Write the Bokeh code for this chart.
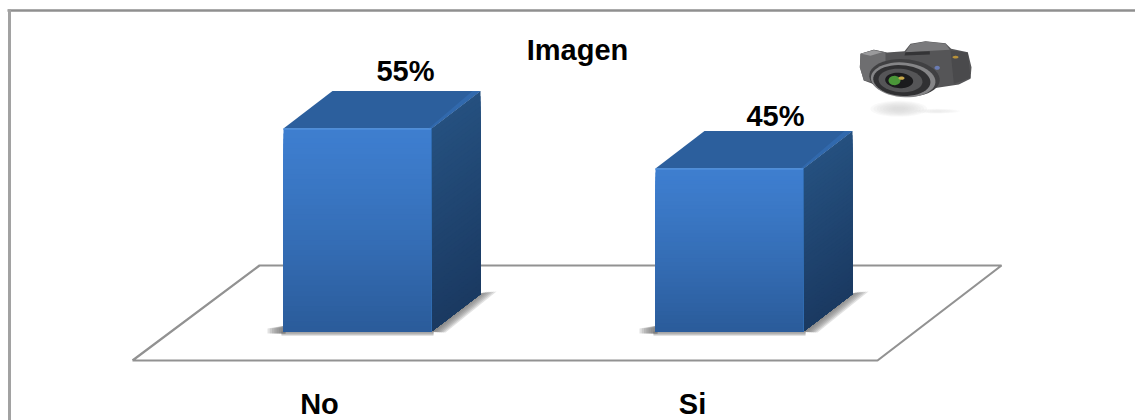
from bokeh.plotting import figure
from bokeh.models import Range1d, ColumnDataSource
from bokeh.core.properties import value
from bokeh.embed import file_html
from bokeh.resources import INLINE
import numpy as np

title = "Imagen"
categories = ["No", "Si"]
percent = [55, 45]
labels = ["55%", "45%"]

W, H = 1135, 420
PX_PER_CAT, PX_PER_PCT = 372.0, 4.0
BASE_VALUE = 4.25
FIRST_BAR_PX = 357.0
TOP_55_PX = 128.0

def X(px):
    return (np.asarray(px, dtype=float) - FIRST_BAR_PX) / PX_PER_CAT
def Y(py):
    return 55 + (TOP_55_PX - np.asarray(py, dtype=float)) / PX_PER_PCT

p = figure(width=W, height=H, output_backend="svg", toolbar_location=None,
           x_range=Range1d(float(X(0)), float(X(W))),
           y_range=Range1d(float(Y(H)), float(Y(0))),
           x_axis_location=None, y_axis_location=None, min_border=0,
           outline_line_color=None, background_fill_color="white", border_fill_color="white")
p.grid.visible = False

def lerp(c1, c2, t):
    a = [int(c1[i:i+2], 16) for i in (1, 3, 5)]
    b = [int(c2[i:i+2], 16) for i in (1, 3, 5)]
    return "#%02x%02x%02x" % tuple(int(round(a[i] + (b[i] - a[i]) * t)) for i in range(3))

def poly(pts, color, alpha=1.0):
    xs = [float(X(q[0])) for q in pts]
    ys = [float(Y(q[1])) for q in pts]
    p.patch(xs, ys, fill_color=color, fill_alpha=alpha, line_color=None)

# outer frame (only top and left edges reach the picture)
p.line([float(X(7)), float(X(1135))], [float(Y(10))] * 2, line_color="#8f8f8f", line_width=2.4)
p.line([float(X(9))] * 2, [float(Y(9)), float(Y(420))], line_color="#a2a2a2", line_width=3)

# floor
fx = [132, 877, 1001, 259, 132]
fy = [360, 360, 265, 265, 360]
p.line([float(v) for v in X(fx)], [float(v) for v in Y(fy)], line_color="#929292", line_width=2.2)

# bars
W_CAT = 148 / PX_PER_CAT
DX = 49 / PX_PER_CAT
DY = 37.5 / PX_PER_PCT
STEPS = 40
for i, v in enumerate(percent):
    cx = float(i)
    l, r = cx - W_CAT / 2, cx + W_CAT / 2
    rp = FIRST_BAR_PX + i * PX_PER_CAT + 74
    lp = rp - 148
    bp = 331.0
    # soft shadows
    for k in range(7):
        e = 16 * (7 - k) / 7
        poly([(rp, bp), (rp + 49, bp - 38), (rp + 49 + e, bp - 40), (rp + 14 * (7 - k) / 7, bp + 1)], "#6e6e6e", 0.2)
        poly([(lp - e, bp - 3), (lp + 2, bp - 6), (lp + 2, bp + 2), (lp - e, bp + 2)], "#6e6e6e", 0.2)
        poly([(lp - 2, bp), (rp + 2, bp), (rp + 2, bp + 1 + 3.5 * (7 - k) / 7), (lp - 2, bp + 1 + 3.5 * (7 - k) / 7)], "#808080", 0.16)
    # side face
    for s in range(STEPS):
        t = s / STEPS
        yv = v + (BASE_VALUE - v) * t
        p.patch([r, r + DX, r + DX, r], [yv, yv + DY, BASE_VALUE + DY, BASE_VALUE],
                fill_color=lerp("#25507f", "#1a3961", t), line_color=None)
    # top face
    p.patch([l, r, r + DX, l + DX], [v, v, v + DY, v + DY], fill_color="#2c5f9d", line_color=None)
    p.patch([r - 3 * DX / 49, r, r + DX, r + DX - 8 * DX / 49],
            [v, v, v + DY, v + DY], fill_color="#3169ad", line_color=None)
    # front face
    for s in range(STEPS):
        t = s / STEPS
        yv = v + (BASE_VALUE - v) * t
        p.quad(left=l, right=r, top=yv, bottom=BASE_VALUE,
               fill_color=lerp("#3e7ecf", "#2a5b99", t ** 1.2), line_color=None)
    p.line([l, r], [v - 0.15, v - 0.15], line_color="#4a8bd9", line_width=1.6)
    p.line([r, r], [v, BASE_VALUE], line_color="#2f6bb0", line_width=1)

FONT = value("Liberation Sans")
src = ColumnDataSource(dict(
    x=list(range(len(categories))), y=percent, text=labels,
    xo=[48, 46], yo=[-58, -53], cat=categories, base=[BASE_VALUE] * 2,
    cxo=[-38, -37], cyo=[72, 72]))
p.text(x="x", y="y", text="text", source=src, x_offset="xo", y_offset="yo",
       text_font=FONT, text_font_style="bold", text_font_size="29px",
       text_align="center", text_baseline="middle", text_color="#000000")
p.text(x="x", y="base", text="cat", source=src, x_offset="cxo", y_offset="cyo",
       text_font=FONT, text_font_style="bold", text_font_size="29px",
       text_align="center", text_baseline="middle", text_color="#000000")
p.text(x=[float(X(577))], y=[float(Y(49))], text=[title],
       text_font=FONT, text_font_style="bold", text_font_size="29px",
       text_align="center", text_baseline="middle", text_color="#000000")

# camera picture, drawn as shapes
def zp(pts):
    return [(830 + a / 3, 20 + b / 3) for a, b in pts]
def ell(cx, cy, rx, ry, ang=0.0):
    th = np.linspace(0, 2 * np.pi, 48)
    c, s = np.cos(ang), np.sin(ang)
    return [(cx + rx * np.cos(t) * c - ry * np.sin(t) * s, cy + rx * np.cos(t) * s + ry * np.sin(t) * c) for t in th]

for k in range(8):
    f = 1 - k / 9
    poly(zp(ell(205, 265, 85 * f, 24 * f)), "#d0d0d0", 0.13)
    poly(zp(ell(320, 272, 70 * f, 7 * f)), "#e6e6e6", 0.1)
poly(zp([(90, 100), (130, 88), (170, 96), (222, 92), (240, 70), (285, 62), (345, 68), (362, 85), (412, 95),
         (423, 140), (420, 175), (385, 192), (300, 205), (140, 195), (100, 180), (88, 140)]), "#555557")
poly(zp([(90, 100), (130, 88), (165, 95), (165, 125), (130, 185), (100, 180), (88, 140)]), "#6e6e70")
poly(zp([(92, 100), (130, 89), (155, 95), (120, 106)]), "#9a9a9c")
poly(zp([(240, 72), (285, 63), (345, 70), (358, 88), (225, 95)]), "#7a7a7c")
poly(zp([(360, 90), (412, 97), (420, 172), (370, 190)]), "#4a4a4c")
poly(zp([(225, 95), (298, 92), (298, 102), (222, 105)]), "#343436")
poly(zp(ell(320, 142, 8, 6)), "#6a7cb4")
poly(zp(ell(375, 110, 9, 4)), "#b8923a")
poly(zp(ell(222, 172, 106, 56, 0.08)), "#404042")
poly(zp(ell(218, 178, 97, 52, 0.08)), "#858587")
poly(zp(ell(214, 180, 86, 46, 0.08)), "#303032")
poly(zp(ell(210, 180, 66, 35, 0.08)), "#555557")
poly(zp(ell(206, 180, 42, 23, 0.08)), "#1b1b1d")
poly(zp(ell(192, 180, 18, 14)), "#4a9638")
poly(zp(ell(213, 173, 9, 5)), "#c9a94a")

open("out.html", "w").write(file_html(p, INLINE))
